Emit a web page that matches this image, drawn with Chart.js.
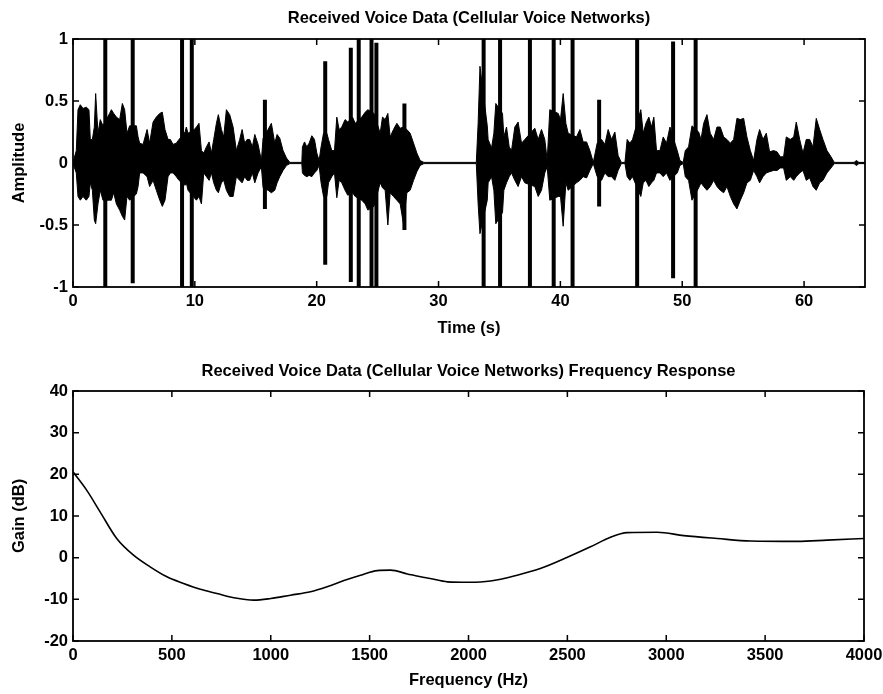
<!DOCTYPE html>
<html><head><meta charset="utf-8">
<script src="https://cdn.jsdelivr.net/npm/chart.js@4.4.1/dist/chart.umd.min.js"></script>
<style>
html,body{margin:0;padding:0;background:#fff;}
#wrap{position:relative;width:883px;height:694px;background:#fff;overflow:hidden;}
#c1{position:absolute;left:0;top:0;}
#c2{position:absolute;left:0;top:345px;}
</style></head><body>
<div id="wrap">
<canvas id="c1" width="883" height="345"></canvas>
<canvas id="c2" width="883" height="349"></canvas>
</div>
<script>
// ---------- Top plot: received voice waveform (envelope) ----------
const envTime = [0.00,0.27,0.41,0.60,0.82,1.09,1.31,1.42,1.59,1.75,
  1.86,2.05,2.24,2.46,3.00,3.15,3.34,3.56,3.83,4.05,
  4.24,4.43,4.65,5.20,5.34,5.47,5.75,6.08,6.29,6.57,
  6.84,7.12,7.33,7.55,7.80,7.99,8.21,8.48,8.70,9.20,
  9.30,9.44,9.95,10.13,10.34,10.54,10.73,10.95,11.17,11.36,
  11.55,11.77,11.93,12.18,12.37,12.59,12.86,13.14,13.41,13.68,
  13.88,14.09,14.29,14.50,14.72,14.92,15.19,15.46,15.60,16.01,
  16.28,16.56,16.75,16.97,17.24,17.52,17.80,18.78,18.83,19.00,
  19.19,19.38,19.60,19.82,20.01,20.20,20.36,20.56,20.83,20.97,
  21.24,21.46,21.65,21.84,22.06,22.33,22.55,22.94,23.16,23.70,
  23.98,24.20,24.70,25.21,25.40,25.62,25.84,26.03,26.30,26.58,
  26.85,27.12,27.40,27.67,27.95,28.22,28.49,28.80,33.10,33.25,
  33.40,34.00,34.07,34.35,34.54,34.70,35.25,35.36,35.58,35.80,
  35.99,36.26,36.53,36.81,37.08,37.90,38.18,38.45,38.72,38.92,
  39.13,39.82,40.01,40.23,40.45,40.64,41.32,41.60,41.87,42.15,
  42.42,42.70,43.02,43.38,43.65,43.92,44.20,44.47,44.74,45.00,
  45.30,45.48,45.70,45.92,46.60,46.80,47.02,47.26,47.48,47.67,
  47.89,48.17,48.44,48.71,48.99,49.59,49.81,50.08,50.25,50.52,
  50.80,51.35,51.54,51.76,52.03,52.30,52.58,52.85,53.12,53.40,
  53.67,53.95,54.22,54.49,54.77,55.04,55.31,55.59,55.86,56.13,
  56.35,56.63,56.90,57.17,57.50,57.78,58.05,58.32,58.54,58.87,
  59.15,59.36,59.64,59.91,60.18,60.46,60.73,61.00,61.28,61.55,
  61.88,62.21,62.48,64.10,64.30,64.50,65.00];
const envUpper = [0.005,0.10,0.43,0.47,0.44,0.45,0.43,0.19,0.19,0.29,
  0.56,0.24,0.35,0.30,0.40,0.43,0.40,0.37,0.35,0.48,
  0.43,0.24,0.30,0.30,0.21,0.16,0.15,0.27,0.16,0.33,
  0.37,0.40,0.41,0.27,0.19,0.19,0.15,0.16,0.19,0.25,
  0.29,0.24,0.27,0.29,0.32,0.10,0.08,0.13,0.17,0.08,
  0.19,0.32,0.39,0.27,0.21,0.43,0.39,0.29,0.10,0.19,
  0.27,0.16,0.19,0.19,0.13,0.23,0.15,0.02,0.20,0.27,
  0.32,0.16,0.23,0.20,0.10,0.04,0.005,0.005,0.13,0.17,
  0.13,0.16,0.22,0.19,0.08,0.02,0.13,0.24,0.24,0.19,
  0.10,0.10,0.37,0.27,0.29,0.35,0.33,0.37,0.32,0.37,
  0.41,0.43,0.40,0.24,0.37,0.35,0.40,0.21,0.27,0.32,
  0.28,0.29,0.27,0.24,0.16,0.08,0.02,0.005,0.005,0.32,
  0.78,0.30,0.19,0.12,0.24,0.48,0.40,0.21,0.29,0.13,
  0.10,0.29,0.33,0.16,0.19,0.28,0.19,0.27,0.19,0.02,
  0.43,0.40,0.35,0.56,0.32,0.24,0.21,0.27,0.17,0.17,
  0.10,0.005,0.16,0.19,0.15,0.27,0.19,0.25,0.06,0.005,
  0.005,0.19,0.16,0.19,0.43,0.24,0.32,0.37,0.29,0.37,
  0.10,0.10,0.21,0.16,0.29,0.10,0.02,0.005,0.10,0.13,
  0.30,0.25,0.19,0.32,0.39,0.24,0.19,0.29,0.29,0.21,
  0.19,0.16,0.19,0.36,0.35,0.36,0.21,0.10,0.02,0.19,
  0.27,0.19,0.24,0.09,0.10,0.09,0.05,0.05,0.21,0.19,
  0.21,0.33,0.19,0.08,0.19,0.19,0.13,0.36,0.27,0.19,
  0.10,0.05,0.005,0.005,0.02,0.005,0.005];
const envLower = [-0.005,-0.08,-0.27,-0.30,-0.27,-0.30,-0.27,-0.16,-0.22,-0.46,
  -0.49,-0.33,-0.22,-0.30,-0.30,-0.30,-0.24,-0.33,-0.38,-0.43,
  -0.46,-0.27,-0.30,-0.25,-0.19,-0.08,-0.08,-0.11,-0.19,-0.14,
  -0.22,-0.30,-0.35,-0.30,-0.11,-0.08,-0.08,-0.11,-0.14,-0.18,
  -0.16,-0.22,-0.28,-0.30,-0.27,-0.33,-0.08,-0.11,-0.14,-0.08,
  -0.16,-0.22,-0.24,-0.16,-0.14,-0.22,-0.27,-0.27,-0.11,-0.14,
  -0.16,-0.11,-0.14,-0.14,-0.08,-0.16,-0.08,-0.03,-0.20,-0.22,
  -0.24,-0.22,-0.16,-0.11,-0.06,-0.02,-0.005,-0.005,-0.08,-0.10,
  -0.11,-0.10,-0.11,-0.08,-0.06,-0.02,-0.16,-0.27,-0.27,-0.16,
  -0.11,-0.08,-0.28,-0.14,-0.16,-0.22,-0.26,-0.24,-0.27,-0.30,
  -0.33,-0.38,-0.35,-0.16,-0.20,-0.22,-0.50,-0.24,-0.27,-0.30,
  -0.33,-0.49,-0.24,-0.22,-0.14,-0.07,-0.02,-0.005,-0.005,-0.33,
  -0.57,-0.30,-0.16,-0.11,-0.22,-0.49,-0.40,-0.22,-0.16,-0.11,
  -0.08,-0.14,-0.19,-0.11,-0.16,-0.19,-0.27,-0.22,-0.08,-0.03,
  -0.30,-0.27,-0.27,-0.51,-0.16,-0.22,-0.16,-0.14,-0.11,-0.12,
  -0.06,-0.005,-0.11,-0.14,-0.08,-0.11,-0.11,-0.14,-0.06,-0.005,
  -0.005,-0.11,-0.14,-0.11,-0.27,-0.16,-0.14,-0.19,-0.16,-0.14,
  -0.08,-0.08,-0.11,-0.08,-0.14,-0.08,-0.02,-0.005,-0.11,-0.14,
  -0.30,-0.20,-0.16,-0.19,-0.22,-0.19,-0.14,-0.19,-0.22,-0.24,
  -0.19,-0.27,-0.33,-0.37,-0.30,-0.24,-0.16,-0.14,-0.06,-0.11,
  -0.16,-0.11,-0.08,-0.07,-0.06,-0.06,-0.04,-0.04,-0.14,-0.11,
  -0.14,-0.11,-0.08,-0.06,-0.14,-0.12,-0.19,-0.22,-0.16,-0.14,
  -0.08,-0.04,-0.005,-0.005,-0.02,-0.005,-0.005];
// clipped bursts and isolated tall strokes
const spikeTime   = [2.65, 4.90, 8.95, 9.75, 15.75, 20.70, 22.80, 23.45, 24.50, 24.90, 27.20,
                     33.70, 35.05, 37.50, 39.45, 41.00, 43.18, 46.30, 49.25, 51.10];
const spikeTop    = [1, 1, 1, 1, 0.51, 0.82, 0.93, 1, 1, 0.97, 0.48,
                     1, 1, 1, 1, 1, 0.51, 1, 0.98, 1];
const spikeBottom = [-1, -0.97, -1, -1, -0.37, -0.82, -0.96, -1, -1, -1, -0.54,
                     -1, -1, -1, -1, -1, -0.35, -1, -0.93, -1];
const timeTicks = [0, 10, 20, 30, 40, 50, 60];
const ampTicks  = [-1, -0.5, 0, 0.5, 1];

// ---------- Bottom plot: frequency response ----------
const freqHz = [0, 69, 137, 221, 306, 390, 475, 559, 644, 728,
                813, 914, 1000, 1100, 1201, 1285, 1370, 1454, 1539, 1606,
                1691, 1758, 1806, 1894, 2000, 2111, 2246, 2363, 2500, 2617,
                2718, 2802, 2954, 3089, 3258, 3427, 3663, 3814, 4000];
const gainDb = [20.6, 16.2, 11.0, 4.6, 0.6, -2.2, -4.6, -6.2, -7.6, -8.6,
                -9.6, -10.2, -9.8, -9.0, -8.2, -7.0, -5.5, -4.2, -3.1, -3.0,
                -3.9, -4.6, -5.0, -5.8, -5.9, -5.6, -4.2, -2.6, 0.1, 2.6,
                4.9, 6.0, 6.1, 5.3, 4.6, 4.0, 3.9, 4.2, 4.6];
const freqTicks = [0, 500, 1000, 1500, 2000, 2500, 3000, 3500, 4000];
const gainTicks = [-20, -10, 0, 10, 20, 30, 40];

const topTitle = 'Received Voice Data (Cellular Voice Networks)';
const bottomTitle = 'Received Voice Data (Cellular Voice Networks) Frequency Response';

const FONT = "'Liberation Sans', Arial, Helvetica, sans-serif";
Chart.defaults.font.family = FONT;
Chart.defaults.color = '#000';
const TXT = { size: 16.5, weight: 'bold' };

function setTicks(list){ return function(scale){ scale.ticks = list.map(v => ({value: v})); }; }
function fixSize(size){
  return function(scale){
    if (scale.isHorizontal()) { scale.height = size; scale.paddingLeft = 0; scale.paddingRight = 0; }
    else { scale.width = size; scale.paddingTop = 0; scale.paddingBottom = 0; }
  };
}

const framePlugin = {
  id: 'frame',
  afterDatasetsDraw(chart){
    const ctx = chart.ctx, a = chart.chartArea;
    const xs = chart.scales.x, ys = chart.scales.y;
    const L = 6;
    ctx.save();
    ctx.strokeStyle = '#000';
    ctx.lineWidth = 1.5;
    ctx.beginPath();
    xs.ticks.forEach(t => {
      const p = xs.getPixelForValue(t.value);
      ctx.moveTo(p, a.bottom); ctx.lineTo(p, a.bottom - L);
      ctx.moveTo(p, a.top); ctx.lineTo(p, a.top + L);
    });
    ys.ticks.forEach(t => {
      const p = ys.getPixelForValue(t.value);
      ctx.moveTo(a.left, p); ctx.lineTo(a.left + L, p);
      ctx.moveTo(a.right, p); ctx.lineTo(a.right - L, p);
    });
    ctx.stroke();
    ctx.lineWidth = 1.8;
    ctx.strokeRect(a.left, a.top, a.right - a.left, a.bottom - a.top);
    ctx.restore();
  }
};

function axis(min, max, ticksList, titleText, titlePad, size){
  return {
    type: 'linear', min: min, max: max,
    afterBuildTicks: setTicks(ticksList),
    afterFit: fixSize(size),
    grid: { display: false, drawTicks: false },
    border: { display: false },
    ticks: { font: TXT, color: '#000', padding: 5, maxRotation: 0, autoSkip: false,
             callback: v => String(v) },
    title: { display: true, text: titleText, font: TXT, color: '#000', padding: titlePad }
  };
}
// a tick-less top axis that carries the plot title centred over the plot box
function titleAxis(min, max, text, padTop, size){
  return {
    type: 'linear', position: 'top', min: min, max: max,
    afterFit: fixSize(size),
    grid: { display: false, drawTicks: false }, border: { display: false },
    ticks: { display: false },
    title: { display: true, text: text, font: TXT, color: '#000', padding: { top: padTop, bottom: 0 } }
  };
}

// top chart
const envUpperPts = envTime.map((t, i) => ({x: t, y: envUpper[i]}));
const envLowerPts = envTime.map((t, i) => ({x: t, y: envLower[i]}));
const spikePts = [];
spikeTime.forEach((t, i) => {
  spikePts.push({x: t, y: spikeTop[i]}, {x: t, y: spikeBottom[i]}, {x: t, y: null});
});

new Chart(document.getElementById('c1'), {
  type: 'line',
  data: { datasets: [
    { data: envUpperPts, borderColor: '#000', backgroundColor: '#000', borderWidth: 1, pointRadius: 0, fill: '+1', tension: 0, xAxisID: 'x', yAxisID: 'y' },
    { data: envLowerPts, borderColor: '#000', borderWidth: 1, pointRadius: 0, fill: false, tension: 0, xAxisID: 'x', yAxisID: 'y' },
    { data: spikePts, borderColor: '#000', borderWidth: 4, pointRadius: 0, fill: false, spanGaps: false, borderCapStyle: 'butt', xAxisID: 'x', yAxisID: 'y' }
  ]},
  options: {
    responsive: false, animation: false, events: [],
    layout: { padding: { left: 0, right: 18, top: 0, bottom: 0 } },
    plugins: { legend: { display: false }, tooltip: { enabled: false }, title: { display: false } },
    scales: {
      xt: titleAxis(0, 65, topTitle, 8.6, 39),
      x: axis(0, 65, timeTicks, 'Time (s)', { top: 0, bottom: 7 }, 58),
      y: axis(-1, 1, ampTicks, 'Amplitude', { top: 9.5, bottom: 0 }, 73)
    }
  },
  plugins: [framePlugin]
});

// bottom chart
new Chart(document.getElementById('c2'), {
  type: 'line',
  data: { datasets: [
    { data: freqHz.map((f, i) => ({x: f, y: gainDb[i]})), borderColor: '#000', borderWidth: 1.6,
      pointRadius: 0, fill: false, cubicInterpolationMode: 'monotone', xAxisID: 'x', yAxisID: 'y' }
  ]},
  options: {
    responsive: false, animation: false, events: [],
    layout: { padding: { left: 0, right: 19, top: 0, bottom: 0 } },
    plugins: { legend: { display: false }, tooltip: { enabled: false }, title: { display: false } },
    scales: {
      xt: titleAxis(0, 4000, bottomTitle, 17, 46),
      x: axis(0, 4000, freqTicks, 'Frequency (Hz)', { top: 0, bottom: 4 }, 53),
      y: axis(-20, 40, gainTicks, 'Gain (dB)', { top: 9.5, bottom: 0 }, 73)
    }
  },
  plugins: [framePlugin]
});
</script>
</body></html>
